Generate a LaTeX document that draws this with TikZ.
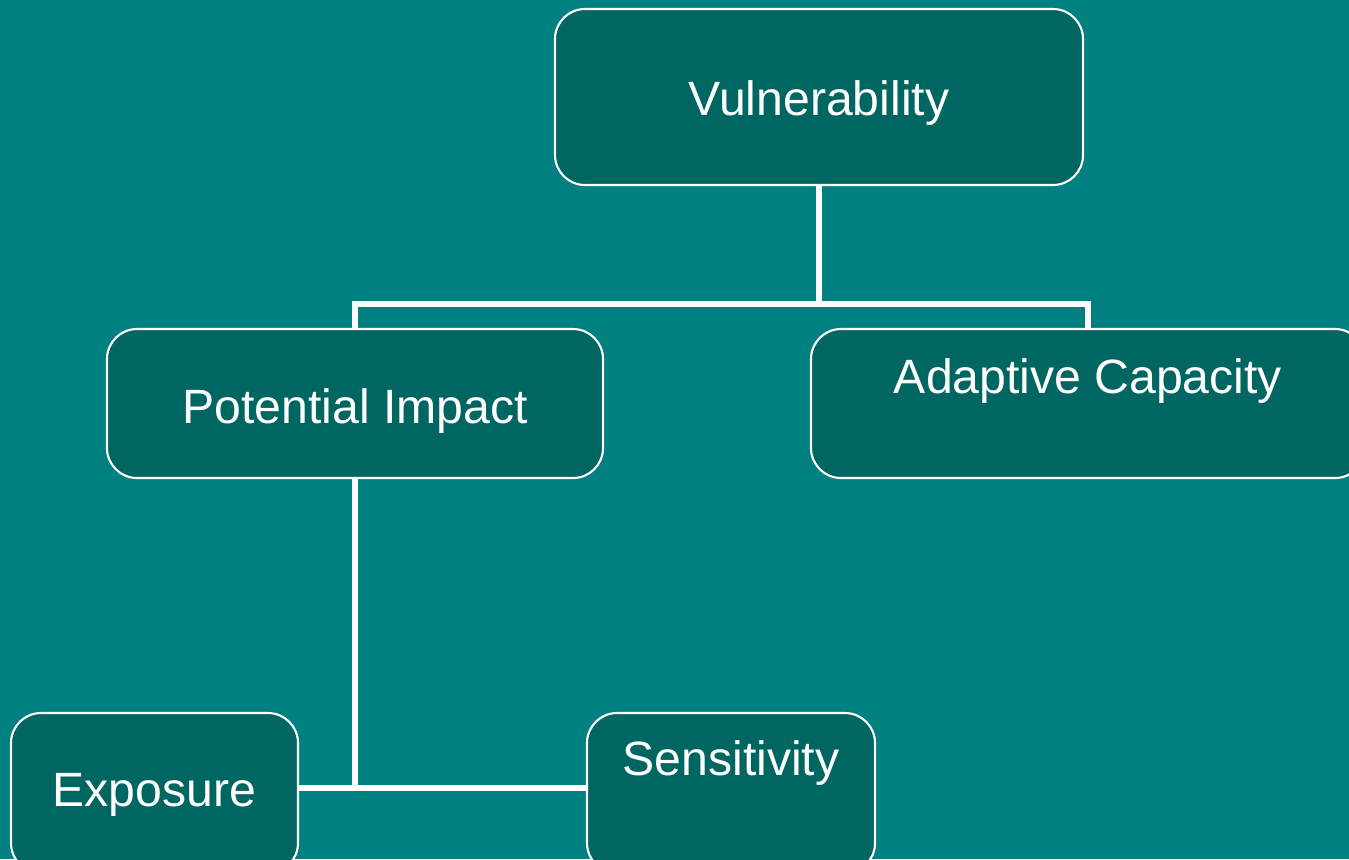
\documentclass[tikz,border=0pt]{standalone}
\usepackage{fontspec}
\setmainfont{Liberation Sans}
\usepackage{tikz}
\usetikzlibrary{positioning}

\definecolor{bgteal}{RGB}{0,128,128}
\definecolor{boxteal}{RGB}{0,102,98}

\begin{document}
\begin{tikzpicture}
	[on grid, node distance=2cm,
	 blk/.style={draw=white, line width=0.6pt, fill=boxteal, rounded corners=0.3cm,
	   text=white, font=\fontsize{13.7}{16}\selectfont, inner ysep=0pt, inner xsep=0pt},
	 link/.style={draw=white, line width=1.6pt}]
   \useasboundingbox (0,0) rectangle (13.49,-8.59);
   \clip (0,0) rectangle (13.49,-8.59);
   \fill[bgteal] (0,0) rectangle (13.49,-8.59);
   \node[blk, minimum width=5.28cm, text height=1.06cm, text depth=0.70cm] (vul) at (8.19,-0.97) {Vulnerability};
   \node[blk, minimum width=4.96cm, text height=0.94cm, text depth=0.55cm] (pot) [below left=3.065cm and 4.64cm of vul] {Potential Impact};
   \node[blk, minimum width=5.54cm, text height=0.64cm, text depth=0.85cm] (ada) [right=7.33cm of pot] {Adaptive Capacity};
   \node[blk, minimum width=2.87cm, text height=0.93cm, text depth=0.67cm] (exp) [below left=3.895cm and 2.005cm of pot] {Exposure};
   \node[blk, minimum width=2.88cm, text height=0.62cm, text depth=0.98cm] (sen) [right=5.765cm of exp] {Sensitivity};
    % connectors
    \draw[link] (vul.south) -- ++(0,-1.18) coordinate (fork) -| (pot.north);
    \draw[link] (fork) -| (ada.north);
    \draw[link] (pot.south) -- ++(0,-3.09) coordinate (base);
    \draw[link] (exp.east |- base) -- (sen.west |- base);
\end{tikzpicture}
\end{document}
